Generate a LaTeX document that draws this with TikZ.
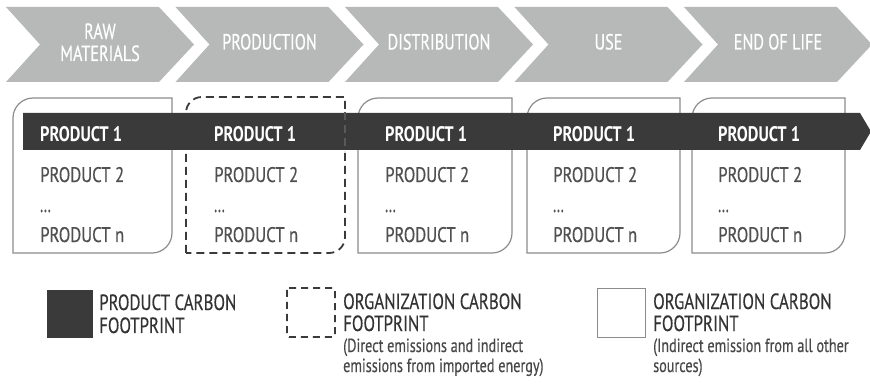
\documentclass[tikz,border=0pt]{standalone}
\usepackage{fontspec}
\usepackage{graphicx}
\newfontfamily\stagefont{PT Sans}[FakeStretch=0.735, FakeBold=0.5]
\newfontfamily\cellfont{PT Sans}[FakeBold=0.5]
\newfontfamily\bandfont{PT Sans}
\newfontfamily\keyfont{PT Sans}[FakeStretch=0.767, FakeBold=0.4]
\newfontfamily\keysubfont{PT Sans}[FakeStretch=0.748, FakeBold=0.4]
\definecolor{stagefill}{HTML}{B7B8B8}
\definecolor{bandcol}{HTML}{3A3A3A}
\definecolor{cardgray}{HTML}{8C8C8C}
\definecolor{celltxt}{HTML}{505050}
\definecolor{keytxt}{HTML}{333333}
\definecolor{subtxt}{HTML}{484848}
% condensed cell labels: fixed width and cap height
\newcommand\cellword[2]{\resizebox{#1pt}{15pt}{#2}}
\tikzset{
  stagetext/.style={inner sep=0pt, anchor=base, text=white,
    font=\stagefont\fontsize{22}{22}\selectfont},
  bandtext/.style={inner sep=0pt, anchor=base west, text=white,
    font=\bandfont\bfseries\fontsize{22}{22}\selectfont},
  celltext/.style={inner sep=0pt, anchor=base west, text=celltxt,
    font=\cellfont\fontsize{22}{22}\selectfont},
  keytitle/.style={inner sep=0pt, anchor=base west, text=keytxt,
    font=\keyfont\fontsize{22}{22}\selectfont},
  keysub/.style={inner sep=0pt, anchor=base west, text=subtxt,
    font=\keysubfont\fontsize{19}{19}\selectfont},
  cardline/.style={draw=cardgray, line width=1.2pt, fill=white},
  orgdash/.style={draw=bandcol, line width=1.8pt, dash pattern=on 8pt off 5pt},
}
\begin{document}
\begin{tikzpicture}[x=1pt,y=-1pt]
\useasboundingbox (0,0) rectangle (870,387);

% life-cycle stages
\foreach \i in {0,...,4} {
  \pgfmathsetmacro\xa{6+169.5*\i}
  \fill[stagefill] (\xa,7) -- ++(153,0) -- ++(35,37.5) -- ++(-35,37.5)
    -- ++(-153,0) -- ++(34,-37.5) -- cycle;
}
\node[stagetext] (s-raw1) at (100,39) {RAW};
\node[stagetext] (s-raw2) at (100,61) {MATERIALS};
\node[stagetext] (s-prod) at (269.5,49.5) {PRODUCTION};
\node[stagetext] (s-dist) at (439,49.5) {DISTRIBUTION};
\node[stagetext] (s-use)  at (608.5,49.5) {USE};
\node[stagetext] (s-eol)  at (778,49.5) {END OF LIFE};

% product cards (indirect emissions)
\foreach \l/\r in {13/172,358/512,527/680,692/845}
  \draw[cardline] (\l,253) -- (\l,118) .. controls (\l,107) and (\l+9,98) .. (\l+20,98)
    -- (\r,98) -- (\r,233) .. controls (\r,244) and (\r-9,253) .. (\r-20,253) -- cycle;

% production stage card (direct emissions)
\draw[orgdash] (186,253) -- (186,113) .. controls (186,104) and (193,97) .. (202,97)
  -- (345,97) -- (345,237) .. controls (345,246) and (338,253) .. (329,253) -- cycle;

% product carbon footprint band
\fill[bandcol] (23,113) -- (860,113) -- (871,131.5) -- (860,150) -- (23,150) -- cycle;
% right edge of the dashed card, faintly visible across the band
\draw[draw=gray!70!black, line width=1.2pt, dash pattern=on 8pt off 5pt]
  (345,112) -- (345,151);

\foreach \l [count=\i] in {13,187,385,553,718} {
  \pgfmathsetmacro\tx{\i<3 ? \l+27 : \l}
  \node[bandtext] (p1-\i) at (\tx,142) {\cellword{82}{PRODUCT 1}};
  \node[celltext] (p2-\i) at (\tx,182) {\cellword{84}{PRODUCT 2}};
  \node[celltext] (pd-\i) at (\tx,212) {\scalebox{0.62}[1]{...}};
  \node[celltext] (pn-\i) at (\tx,242) {\cellword{84}{PRODUCT n}};
}

% key
\node[fill=bandcol, minimum width=46, minimum height=48, inner sep=0pt, anchor=north west]
  (key-pcf) at (47,290) {};
\node[keytitle] (k1a) at (99,310) {PRODUCT CARBON};
\node[keytitle] (k1b) at (99,333) {FOOTPRINT};

\draw[orgdash, line width=1.6pt, dash pattern=on 7pt off 5pt, rounded corners=2pt]
  (287,288) rectangle (335,337);
\coordinate (key-ocf-direct) at (311,312.5);
\node[keytitle] (k2a) at (343,309) {ORGANIZATION CARBON};
\node[keytitle] (k2b) at (343,331) {FOOTPRINT};
\node[keysub]   (k2c) at (343,352) {(Direct emissions and indirect};
\node[keysub]   (k2d) at (343,372) {emissions from imported energy)};

\node[draw=cardgray, line width=1.2pt, minimum width=48, minimum height=49, inner sep=0pt,
  anchor=north west] (key-ocf-indirect) at (597,288) {};
\node[keytitle] (k3a) at (653,309) {ORGANIZATION CARBON};
\node[keytitle] (k3b) at (653,331) {FOOTPRINT};
\node[keysub]   (k3c) at (653,352) {(Indirect emission from all other};
\node[keysub]   (k3d) at (653,372) {sources)};
\end{tikzpicture}
\end{document}
